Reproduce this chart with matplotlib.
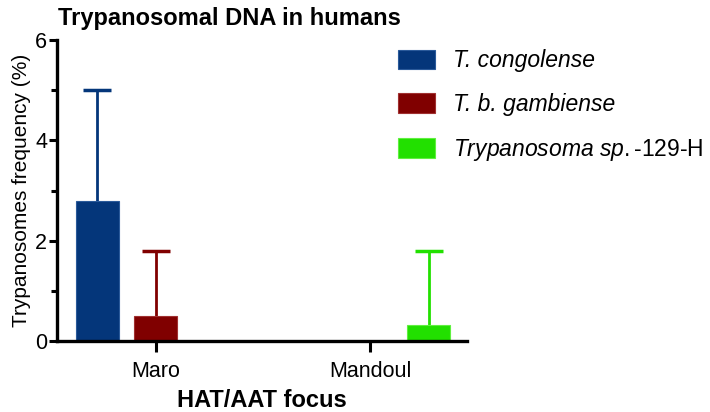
import numpy as np
import matplotlib
matplotlib.use("Agg")
import matplotlib.pyplot as plt
from matplotlib.ticker import MultipleLocator

plt.rcParams["font.family"] = ["Liberation Sans", "DejaVu Sans"]
plt.rcParams["mathtext.fontset"] = "custom"
plt.rcParams["mathtext.it"] = "Liberation Sans:italic"
plt.rcParams["mathtext.rm"] = "Liberation Sans"

# ── Datos ───────────────────────────────────────────────────────────────────
foci = ["Maro", "Mandoul"]
species = ["T. congolense",
           "T. b. gambiense",
           r"$\mathit{Trypanosoma}$ $\mathit{sp.}$-129-H"]
freq = [
    [2.8, 0.0],    # T. congolense
    [0.5, 0.0],    # T. b. gambiense
    [0.0, 0.33],   # Trypanosoma sp.-129-H
]
err_upper = [
    [2.2, 0.0],
    [1.3, 0.0],
    [0.0, 1.47],
]
colors = ["#04367a", "#800000", "#22e000"]
edges = ["#2a5a9a", "#a03030", "#60f040"]

# ── Figura ──────────────────────────────────────────────────────────────────
fig = plt.figure(figsize=(7.10, 4.12), dpi=100)
ax = fig.add_axes([0.080, 0.172, 0.578, 0.731])

x = np.arange(len(foci))
step, width = 0.271, 0.2
for i, (vals, err) in enumerate(zip(freq, err_upper)):
    pos = x + (i - 1) * step
    ax.bar(pos, vals, width=width, color=colors[i], edgecolor=edges[i],
           linewidth=0.8, label=species[i], zorder=2)
    vals = np.array(vals)
    err = np.array(err)
    mask = err > 0
    eb = ax.errorbar(pos[mask], vals[mask], yerr=[np.zeros(mask.sum()), err[mask]],
                     fmt="none", ecolor=colors[i], elinewidth=2, capsize=10,
                     capthick=2.5, zorder=1)
    eb[1][0].set_visible(False)    # sin tapa inferior

ax.set_xlim(-0.46, 1.45)
ax.set_ylim(0, 6)
ax.set_xticks(x)
ax.set_xticklabels(foci, fontsize=15.5)
ax.yaxis.set_major_locator(MultipleLocator(2))
ax.yaxis.set_minor_locator(MultipleLocator(1))
ax.tick_params(axis="y", which="major", length=6, width=2.2, labelsize=15.5, pad=1)
ax.tick_params(axis="y", which="minor", length=4, width=2.2)
ax.tick_params(axis="x", which="major", length=8, width=2.2, pad=6)

for s in ["top", "right"]:
    ax.spines[s].set_visible(False)
for s in ["left", "bottom"]:
    ax.spines[s].set_linewidth(2.4)

ax.set_ylabel("Trypanosomes frequency (%)", fontsize=15, labelpad=3)
ax.set_xlabel("HAT/AAT focus", fontsize=17, fontweight="bold", labelpad=5)
fig.text(0.082, 0.939, "Trypanosomal DNA in humans", fontsize=17,
         fontweight="bold", va="baseline", ha="left")

leg = fig.legend(loc="upper left", bbox_to_anchor=(0.532, 0.93), frameon=False,
                 fontsize=16.5, handlelength=1.6, handleheight=0.95,
                 labelspacing=0.9, handletextpad=0.8)
for t in leg.get_texts()[:2]:
    t.set_fontstyle("italic")

fig.savefig("out.png", dpi=100)
